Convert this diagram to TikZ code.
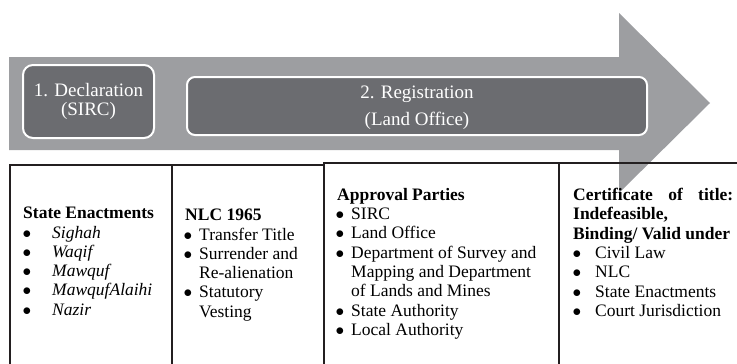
\documentclass[tikz,border=0pt]{standalone}
\usepackage{fontspec}
\setmainfont{Liberation Serif}
\usetikzlibrary{positioning}

\definecolor{arrowgray}{HTML}{9D9EA1}
\definecolor{boxgray}{HTML}{6B6C70}
\definecolor{rulegray}{HTML}{231F20}

\newcommand{\bigtext}{\fontsize{19}{19.3}\selectfont}
\newcommand{\celltextfont}{\fontsize{17.5}{19.3}\selectfont}
\newcommand{\bigdot}{$\bullet$}
\newcommand{\dotA}{\makebox[29pt][l]{\hspace*{-0.5pt}\bigdot}}
\newcommand{\dotB}{\makebox[14pt][l]{\hspace*{-1.5pt}\bigdot}}
\newcommand{\hangB}{\hspace*{14pt}}
\newcommand{\dotC}{\makebox[22pt][l]{\hspace*{-0.5pt}\bigdot}}

\tikzset{
  stagebox/.style={draw=white, line width=2pt, fill=boxgray, text=white,
    align=center, font=\bigtext, inner sep=0pt},
  cellrule/.style={draw=rulegray, line width=2.5pt},
  celltext/.style={anchor=north west, align=left, inner sep=0pt, font=\celltextfont}
}

\begin{document}
\begin{tikzpicture}[x=1pt, y=-1pt]
        \useasboundingbox (0,0) rectangle (737,364);
        \clip (0,0) rectangle (737,364);
        %---------------------------
        \fill[arrowgray] (9,57) -- (619,57) -- (619,13) -- (710,103)
          -- (619,193) -- (619,150) -- (9,150) -- cycle;
        \node[stagebox, rounded corners=10pt, minimum width=131pt, minimum height=73pt] (decl) at (88.5,101.5)
          {1. Declaration\\(SIRC)};
        \node[stagebox, rounded corners=8pt, minimum width=460pt, minimum height=58pt] (regis) at (417,106)
          {};
        \node[text=white, align=center, font=\bigtext, inner sep=0pt] (regislabel) at (417,108)
          {2. Registration\\[8pt](Land Office)};
        %---------------------------
        \draw[cellrule] (10,370) -- (10,165) -- (324,165);
        \draw[cellrule] (324,370) -- (324,163) -- (745,163);
        \draw[cellrule] (172,165) -- (172,370);
        \draw[cellrule] (559,163) -- (559,370);
        %---------------------------
        \node[celltext] (enact) at (23,207) {\textbf{State Enactments}\\
          \dotA\textit{Sighah}\\ \dotA\textit{Waqif}\\ \dotA\textit{Mawquf}\\
          \dotA\textit{MawqufAlaihi}\\ \dotA\textit{Nazir}};
        \node[celltext] (nlc) at (185,209)
          {\textbf{NLC 1965}\\ \dotB Transfer Title\\ \dotB Surrender and\\
          \hangB Re-alienation\\ \dotB Statutory\\ \hangB Vesting};
        \node[celltext] (parties) at (337,188) {\textbf{Approval Parties}\\
          \dotB SIRC\\ \dotB Land Office\\ \dotB Department of Survey and\\
          \hangB Mapping and Department\\ \hangB of Lands and Mines\\
          \dotB State Authority\\ \dotB Local Authority};
        \node[celltext] (title) at (573,188)
          {\textbf{\hbox to 160pt{Certificate\hfill of\hfill title:}}\\
          \textbf{Indefeasible,}\\ \textbf{Binding/ Valid under}\\
          \dotC Civil Law\\ \dotC NLC\\ \dotC State Enactments\\ \dotC Court Jurisdiction};
\end{tikzpicture}
\end{document}
